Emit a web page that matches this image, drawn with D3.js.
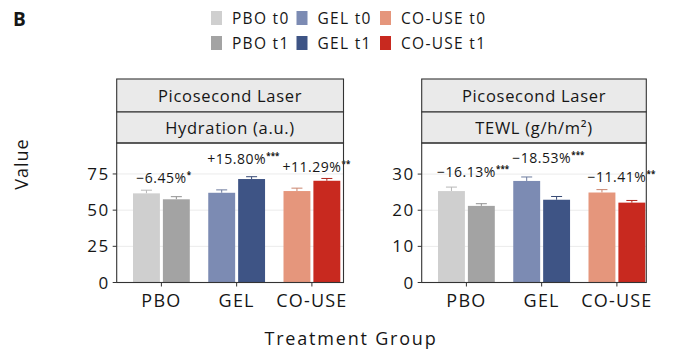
<!DOCTYPE html>
<html><head><meta charset="utf-8">
<script src="https://cdn.jsdelivr.net/npm/d3@7"></script>
<style>
html,body{margin:0;padding:0;background:#fff;}
svg{display:block;font-family:"Open Sans",sans-serif;}
</style></head>
<body><svg id="chart" width="675" height="360"></svg>
<script>
// ---------- data ----------
const groups = ["PBO", "GEL", "CO-USE"];
const times = ["t0", "t1"];
const legendLabels = ["PBO t0", "GEL t0", "CO-USE t0", "PBO t1", "GEL t1", "CO-USE t1"];
const stripTitle = "Picosecond Laser";
const panelTitles = ["Hydration (a.u.)", "TEWL (g/h/m\u00B2)"];

const hydrationT0 = [61.6, 62.0, 63.2];
const hydrationT1 = [57.5, 71.5, 70.3];
const hydrationT0Err = [2.2, 2.0, 2.0];
const hydrationT1Err = [1.8, 1.6, 1.6];
const hydrationChange = ["\u22126.45%", "+15.80%", "+11.29%"];
const hydrationStars = ["*", "***", "**"];
const hydrationLabelY = [68.7, 81.7, 76.6];
const hydrationTicks = [0, 25, 50, 75];
const hydrationMax = 96.4;

const tewlT0 = [25.3, 28.1, 24.9];
const tewlT1 = [21.2, 22.9, 22.1];
const tewlT0Err = [1.1, 1.1, 0.8];
const tewlT1Err = [0.6, 0.9, 0.6];
const tewlChange = ["\u221216.13%", "\u221218.53%", "\u221211.41%"];
const tewlStars = ["***", "***", "**"];
const tewlLabelY = [29.1, 33.2, 27.8];
const tewlTicks = [0, 10, 20, 30];
const tewlMax = 38.6;

// ---------- styles ----------
const colors = {
  "PBO t0": "#cfcfcf", "PBO t1": "#a3a3a3",
  "GEL t0": "#7c8bb3", "GEL t1": "#3e5485",
  "CO-USE t0": "#e5967c", "CO-USE t1": "#c8291f"
};
const ink = "#161616";

const svg = d3.select("#chart");

// Panel label
svg.append("text").attr("x", 13).attr("y", 26).attr("font-size", 19).attr("font-weight", "bold")
  .attr("fill", ink).text("B");

// Legend
const legCols = [211, 296.5, 380];
const legRows = [11, 36];
legendLabels.forEach((lab, i) => {
  const col = i % 3, row = Math.floor(i / 3);
  const g = svg.append("g").attr("transform", `translate(${legCols[col]},${legRows[row]})`);
  g.append("rect").attr("width", 11).attr("height", 14).attr("fill", colors[lab]);
  g.append("text").attr("x", 21).attr("y", 12.8).attr("font-size", 15.5).attr("letter-spacing", 1.3)
    .attr("fill", ink).text(lab);
});

const panels = [
  {x0: 116.7, x1: 343.5, t0: hydrationT0, t1: hydrationT1, e0: hydrationT0Err, e1: hydrationT1Err,
   change: hydrationChange, stars: hydrationStars, labelY: hydrationLabelY, ticks: hydrationTicks,
   max: hydrationMax, title: panelTitles[0]},
  {x0: 421.7, x1: 646.3, t0: tewlT0, t1: tewlT1, e0: tewlT0Err, e1: tewlT1Err,
   change: tewlChange, stars: tewlStars, labelY: tewlLabelY, ticks: tewlTicks,
   max: tewlMax, title: panelTitles[1]}
];

const stripTop = 79, strip2Top = 112, plotTop = 143, plotBottom = 282.5;
const border = "#333";

panels.forEach(p => {
  const g = svg.append("g");
  const y = d3.scaleLinear().domain([0, p.max]).range([plotBottom, plotTop]);
  const x = d3.scalePoint().domain(groups).range([p.x0 + 44.7, p.x0 + 44.7 + 150.5]);
  const xs = d3.scaleBand().domain(times).range([-28.4, 28.4]).paddingInner(0.1);

  // gridlines
  g.append("g").selectAll("line").data(p.ticks).join("line")
    .attr("x1", p.x0).attr("x2", p.x1).attr("y1", d => y(d)).attr("y2", d => y(d))
    .attr("stroke", "#ebebeb").attr("stroke-width", 1);

  // bars
  const rows = [];
  groups.forEach((grp, i) => {
    rows.push({grp, t: "t0", v: p.t0[i], e: p.e0[i]});
    rows.push({grp, t: "t1", v: p.t1[i], e: p.e1[i]});
  });
  rows.forEach(r => {
    const col = colors[r.grp + " " + r.t];
    const bx = x(r.grp) + xs(r.t);
    const cx = bx + xs.bandwidth() / 2;
    const dark = d3.color(col).darker(0.35).formatHex();
    g.append("line").attr("x1", cx).attr("x2", cx).attr("y1", y(r.v)).attr("y2", y(r.v + r.e))
      .attr("stroke", dark).attr("stroke-width", 1);
    g.append("line").attr("x1", cx - 5.5).attr("x2", cx + 5.5).attr("y1", y(r.v + r.e)).attr("y2", y(r.v + r.e))
      .attr("stroke", dark).attr("stroke-width", 1);
    g.append("rect").attr("x", bx).attr("width", xs.bandwidth())
      .attr("y", y(r.v)).attr("height", y(0) - y(r.v)).attr("fill", col);
  });

  // change labels
  groups.forEach((grp, i) => {
    const t = g.append("text").attr("x", x(grp)).attr("y", y(p.labelY[i]))
      .attr("text-anchor", "middle").attr("font-size", 14).attr("letter-spacing", 0.5)
      .attr("fill", ink).text(p.change[i]);
    const w = t.node().getComputedTextLength();
    g.append("text").attr("x", x(grp) + w / 2 + 0.3).attr("y", y(p.labelY[i]) - 5)
      .attr("font-size", 8).attr("font-weight", "bold").attr("fill", ink).text(p.stars[i]);
  });

  // strips
  [[stripTop, strip2Top, stripTitle], [strip2Top, plotTop, p.title]].forEach(([a, b, txt]) => {
    g.append("rect").attr("x", p.x0).attr("y", a).attr("width", p.x1 - p.x0).attr("height", b - a)
      .attr("fill", "#eaeaea").attr("stroke", border).attr("stroke-width", 1.1);
    g.append("text").attr("x", (p.x0 + p.x1) / 2).attr("y", (a + b) / 2 + 6)
      .attr("text-anchor", "middle").attr("font-size", 16.5).attr("letter-spacing", 0.7)
      .attr("fill", ink).text(txt);
  });

  // panel border
  g.append("rect").attr("x", p.x0).attr("y", plotTop).attr("width", p.x1 - p.x0)
    .attr("height", plotBottom - plotTop).attr("fill", "none").attr("stroke", border).attr("stroke-width", 1.1);

  // y axis
  p.ticks.forEach(t => {
    g.append("line").attr("x1", p.x0 - 4).attr("x2", p.x0).attr("y1", y(t)).attr("y2", y(t))
      .attr("stroke", border).attr("stroke-width", 1);
    g.append("text").attr("x", p.x0 - 7).attr("y", y(t) + 6).attr("text-anchor", "end")
      .attr("font-size", 17).attr("letter-spacing", 1.5).attr("fill", ink).text(t);
  });

  // x axis
  groups.forEach(grp => {
    g.append("line").attr("x1", x(grp)).attr("x2", x(grp)).attr("y1", plotBottom).attr("y2", plotBottom + 4)
      .attr("stroke", border).attr("stroke-width", 1);
    g.append("text").attr("x", x(grp)).attr("y", 306.5).attr("text-anchor", "middle")
      .attr("font-size", 18).attr("letter-spacing", 1.2).attr("fill", ink).text(grp);
  });
});

// axis titles
svg.append("text").attr("x", 351).attr("y", 345).attr("text-anchor", "middle")
  .attr("font-size", 18).attr("letter-spacing", 1.8).attr("fill", ink).text("Treatment Group");
svg.append("text").attr("transform", "translate(28,164) rotate(-90)").attr("text-anchor", "middle")
  .attr("font-size", 18).attr("letter-spacing", 1).attr("fill", ink).text("Value");
</script></body></html>
